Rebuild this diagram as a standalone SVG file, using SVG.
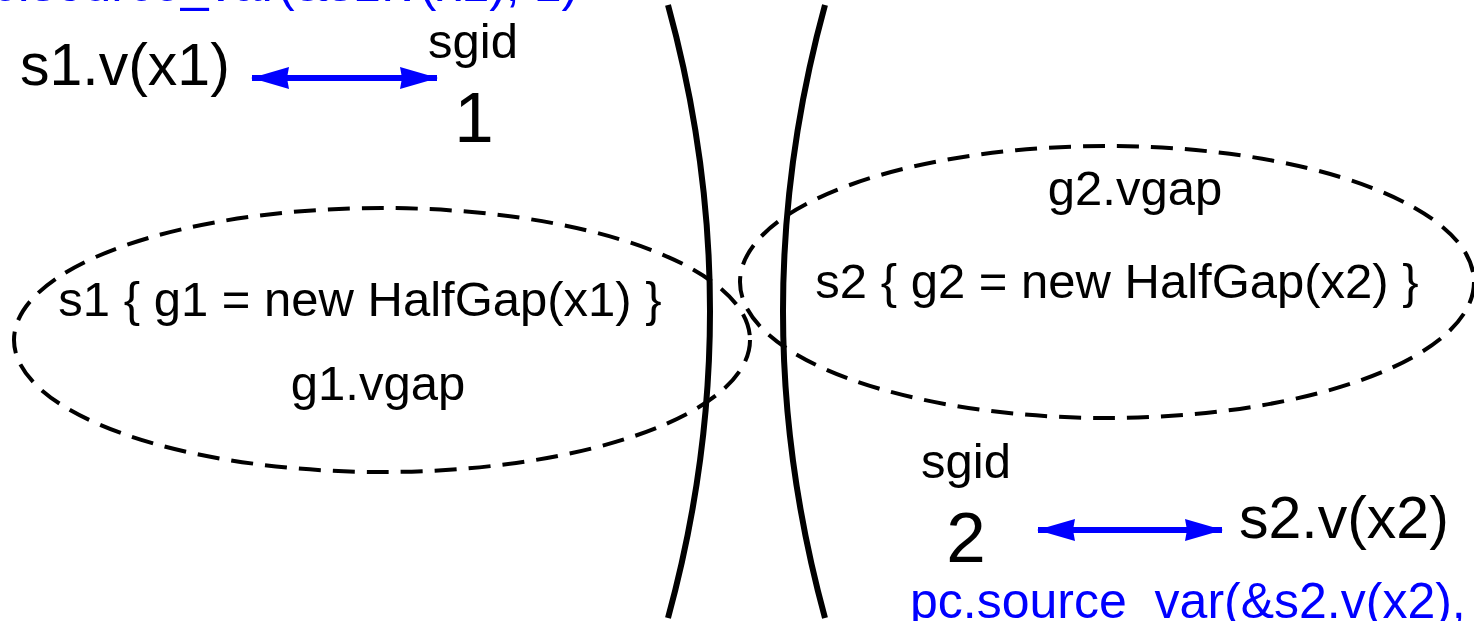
<svg xmlns="http://www.w3.org/2000/svg" width="1474" height="621" viewBox="0 0 1474 621">
<style>
text{font-family:"Liberation Sans",Arial,sans-serif;fill:#000}
.lbl{font-size:49px}
.big{font-size:59px}
.num{font-size:71px}
.blue{font-size:50px;fill:#0000ff}
.ell{fill:none;stroke:#000;stroke-width:4;stroke-dasharray:22 12}
.wall{fill:none;stroke:#000;stroke-width:6}
.arr{stroke:#0000ff;stroke-width:6;fill:none;marker-start:url(#ah);marker-end:url(#ah)}
</style>
<defs>
<marker id="ah" viewBox="0 0 38 22" refX="37" refY="11" markerWidth="38" markerHeight="22" markerUnits="userSpaceOnUse" orient="auto-start-reverse">
<path d="M0,0 L38,11 L0,22 L2,11 Z" fill="#0000ff"/>
</marker>
</defs>
<rect width="1474" height="621" fill="#fff"/>
<g id="walls">
<path class="wall" d="M668,5 Q752,311 668,618"/>
<path class="wall" d="M825,5 Q741,311 825,618"/>
</g>
<g id="node-s1">
<ellipse class="ell" cx="382" cy="340" rx="368" ry="132"/>
<text class="lbl" x="360" y="316" text-anchor="middle">s1 { g1 = new HalfGap(x1) }</text>
<text class="lbl" x="378" y="400" text-anchor="middle">g1.vgap</text>
</g>
<g id="node-s2">
<ellipse class="ell" cx="1107" cy="282" rx="367" ry="136"/>
<text class="lbl" x="1117" y="298" text-anchor="middle">s2 { g2 = new HalfGap(x2) }</text>
<text class="lbl" x="1135" y="205" text-anchor="middle">g2.vgap</text>
</g>
<g id="node-v1">
<text class="big" x="20" y="85">s1.v(x1)</text>
</g>
<g id="node-sgid1">
<text class="lbl" x="473" y="58" text-anchor="middle">sgid</text>
<text class="num" x="474" y="142" text-anchor="middle">1</text>
</g>
<g id="node-sgid2">
<text class="lbl" x="966" y="478" text-anchor="middle">sgid</text>
<text class="num" x="966" y="562" text-anchor="middle">2</text>
</g>
<g id="node-v2">
<text class="big" x="1239" y="538">s2.v(x2)</text>
</g>
<g id="labels">
<text class="blue" x="-36" y="1">pc.source_var(&amp;s1.v(x1), 1)</text>
<text class="blue" x="910" y="618">pc.source_var(&amp;s2.v(x2),</text>
</g>
<g id="connectors">
<line class="arr" x1="252" y1="78" x2="437" y2="78"/>
<line class="arr" x1="1038" y1="530" x2="1222" y2="530"/>
</g>
</svg>
